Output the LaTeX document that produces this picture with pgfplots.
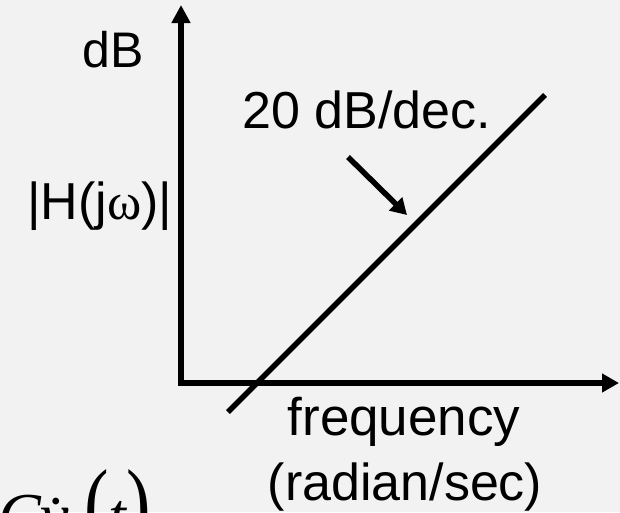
\documentclass[border=0pt]{standalone}
\usepackage{pgfplots}
\pgfplotsset{compat=1.18}
\usetikzlibrary{arrows.meta}
\usepackage{fontspec}
\setmainfont{Liberation Sans}
\newfontfamily\serif{Liberation Serif}
\definecolor{bg}{HTML}{F2F2F2}
\begin{document}
\begin{tikzpicture}
\begin{scope}
\clip (0,0) rectangle (620pt,512pt);
\fill[bg] (0,0) rectangle (620pt,512pt);
\begin{axis}[
  at={(0,0)}, anchor=south west,
  scale only axis, width=620pt, height=512pt,
  xmin=0, xmax=620, ymin=0, ymax=512, y dir=reverse,
  hide axis, clip=false,
]
% axes (pixel coordinates, y downward)
\addplot[black, line width=6pt, line join=miter,
  {Triangle[width=18pt,length=18pt]}-{Triangle[width=18pt,length=17pt]}]
  coordinates {(181,5) (181,383) (619,383)};
% 20 dB/dec line
\addplot[black, line width=5.5pt] coordinates {(228,412) (545,95)};
% pointer arrow
\addplot[black, line width=5.5pt, -{Triangle[width=18pt,length=16pt]}]
  coordinates {(348,157) (407,215)};
\node[anchor=base west, inner sep=0pt, font=\fontsize{50}{56}\selectfont] at (axis cs:82,67) {dB};
\node[anchor=base west, inner sep=0pt, font=\fontsize{52}{60}\selectfont] at (axis cs:242,128) {20 dB/dec.};
\node[anchor=base west, inner sep=0pt, font=\fontsize{52}{60}\selectfont] at (axis cs:27,219) {|H(j{\serif ω})|};
\node[anchor=base, inner sep=0pt, font=\fontsize{53}{60}\selectfont] at (axis cs:404,435) {frequency};
\node[anchor=base, inner sep=0pt, font=\fontsize{52}{60}\selectfont] at (axis cs:405,500) {(radian/sec)};
\node[anchor=base west, inner sep=0pt, font=\serif\fontsize{64}{70}\selectfont] at (axis cs:-2,537)
  {\itshape C\.{v}\textsubscript{i}\kern2pt{\scalebox{0.75}[1]{\fontsize{98}{98}\selectfont\upshape(}}t{\scalebox{0.75}[1]{\fontsize{98}{98}\selectfont\upshape)}}};
\end{axis}
\end{scope}
\pgfresetboundingbox
\useasboundingbox (0,0) rectangle (620pt,512pt);
\end{tikzpicture}
\end{document}
